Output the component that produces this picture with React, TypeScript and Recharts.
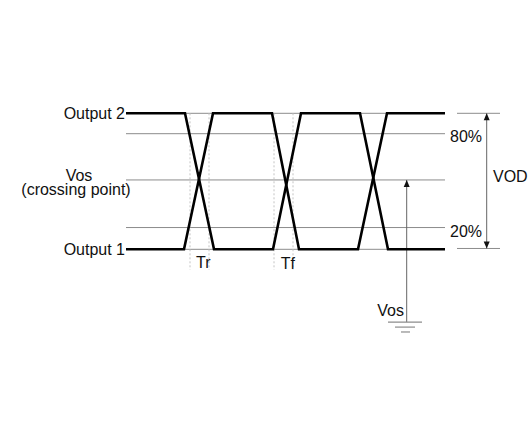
import { LineChart, Line, XAxis, YAxis, ReferenceLine, ReferenceDot } from "recharts";

// time axis: 0 = start of the waveform, one unit per screen pixel
const output2Time = [0, 59, 88, 147, 175, 234, 262, 319];
const output2Level = [100, 100, 0, 0, 100, 100, 0, 0];
const output1Time = [0, 58, 87, 146, 173, 232, 261, 319];
const output1Level = [0, 0, 100, 100, 0, 0, 100, 100];

// thin guide lines (Output 2, 80%, Vos, 20%, Output 1) as drawn
const guideLevels = [100, 85, 51, 16, 0];
const edgeMarks = [64, 83, 148, 167];
const waveEnd = 319;

const vodX = 360.7;
const vosX = 280.7;
const groundLevels = [-53.5, -57.2, -60.8];
const groundSpans = [[262, 296], [269, 289], [275, 284]];

const output2 = output2Time.map((t, i) => ({ t, v: output2Level[i] }));
const output1 = output1Time.map((t, i) => ({ t, v: output1Level[i] }));

const FONT = "'Liberation Sans', Arial, sans-serif";

function textShape(text: string, anchor: "start" | "middle" | "end", dy: number) {
  return (p: any) => (
    <text x={p.cx} y={p.cy + dy} textAnchor={anchor} fontSize={16} fontFamily={FONT} fill="#111">
      {text}
    </text>
  );
}

function arrowShape(up: boolean) {
  return (p: any) => {
    const { cx, cy } = p;
    const d = up ? 7 : -7;
    return <polygon points={`${cx},${cy} ${cx - 3},${cy + d} ${cx + 3},${cy + d}`} fill="#111" />;
  };
}

export default function App() {
  return (
    <div style={{ position: "absolute", left: 0, top: 0, background: "#fff" }}>
      <LineChart width={528} height={437} margin={{ top: 113.3, right: 0, bottom: 92.5, left: 0 }}>
        <XAxis type="number" dataKey="t" domain={[-126, 402]} hide />
        <YAxis type="number" dataKey="v" domain={[-70, 100]} hide />

        {guideLevels.map((y) => (
          <ReferenceLine key={"g" + y} segment={[{ x: 0, y }, { x: waveEnd, y }]} stroke="#8c8c8c" strokeWidth={1} />
        ))}
        {edgeMarks.map((x) => (
          <ReferenceLine key={"e" + x} segment={[{ x, y: 100 }, { x, y: -15 }]} stroke="#c4c4c4" strokeWidth={1} strokeDasharray="2 2" />
        ))}

        {/* VOD dimension */}
        <ReferenceLine segment={[{ x: 331, y: 100 }, { x: 374, y: 100 }]} stroke="#8c8c8c" />
        <ReferenceLine segment={[{ x: 331, y: 0.6 }, { x: 374, y: 0.6 }]} stroke="#8c8c8c" />
        <ReferenceLine segment={[{ x: vodX, y: 100 }, { x: vodX, y: 0.6 }]} stroke="#666" />
        <ReferenceDot x={vodX} y={100} shape={arrowShape(true)} />
        <ReferenceDot x={vodX} y={0.6} shape={arrowShape(false)} />

        {/* Vos arrow to ground */}
        <ReferenceLine segment={[{ x: vosX, y: 51 }, { x: vosX, y: groundLevels[0] }]} stroke="#666" />
        <ReferenceDot x={vosX} y={51} shape={arrowShape(true)} />
        {groundLevels.map((y, i) => (
          <ReferenceLine
            key={"gr" + i}
            segment={[{ x: groundSpans[i][0], y }, { x: groundSpans[i][1], y }]}
            stroke="#8c8c8c"
            strokeWidth={1.2}
          />
        ))}

        <Line data={output2} dataKey="v" type="linear" stroke="#000" strokeWidth={2.6} dot={false} isAnimationActive={false} />
        <Line data={output1} dataKey="v" type="linear" stroke="#000" strokeWidth={2.6} dot={false} isAnimationActive={false} />

        <ReferenceDot x={-1} y={100} shape={textShape("Output 2", "end", 5.5)} />
        <ReferenceDot x={-47} y={51} shape={textShape("Vos", "middle", 1)} />
        <ReferenceDot x={-50} y={51} shape={textShape("(crossing point)", "middle", 15.5)} />
        <ReferenceDot x={-1} y={0} shape={textShape("Output 1", "end", 5.5)} />
        <ReferenceDot x={70} y={0} shape={textShape("Tr", "start", 19)} />
        <ReferenceDot x={154.7} y={0} shape={textShape("Tf", "start", 19.5)} />
        <ReferenceDot x={324} y={85} shape={textShape("80%", "start", 8)} />
        <ReferenceDot x={324} y={16} shape={textShape("20%", "start", 9)} />
        <ReferenceDot x={367} y={51} shape={textShape("VOD", "start", 2)} />
        <ReferenceDot x={278} y={-49.4} shape={textShape("Vos", "end", 0)} />
      </LineChart>
    </div>
  );
}
